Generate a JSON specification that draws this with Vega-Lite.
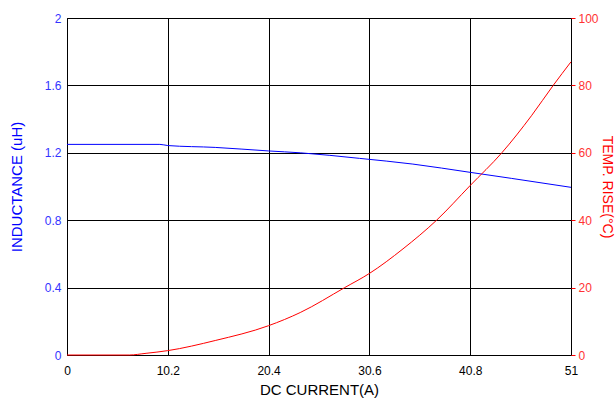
{
  "$schema": "https://vega.github.io/schema/vega-lite/v6.json",
  "width": 504,
  "height": 337,
  "autosize": "none",
  "padding": {"left": 67, "top": 18, "right": 45, "bottom": 53},
  "background": "white",
  "config": {
    "font": "Liberation Sans",
    "view": {"stroke": "black", "strokeWidth": 1},
    "axis": {"gridColor": "black", "gridOpacity": 1, "gridWidth": 1, "labelFontSize": 12, "titleFontSize": 15, "titleFontWeight": "normal", "labelFont": "Liberation Sans", "titleFont": "Liberation Sans"}
  },
  "datasets": {
    "ind": [
      {"current": 0, "inductance": 1.25},
      {"current": 9.4, "inductance": 1.25},
      {"current": 10.2, "inductance": 1.243},
      {"current": 15, "inductance": 1.232},
      {"current": 20.4, "inductance": 1.211},
      {"current": 23.6, "inductance": 1.2},
      {"current": 29.6, "inductance": 1.167},
      {"current": 35, "inductance": 1.133},
      {"current": 40.8, "inductance": 1.084},
      {"current": 45, "inductance": 1.048},
      {"current": 51, "inductance": 0.995}
    ],
    "temp": [
      {"current": 0, "temp": 0},
      {"current": 6.3, "temp": 0},
      {"current": 8, "temp": 0.5},
      {"current": 10.2, "temp": 1.3},
      {"current": 15, "temp": 4.3},
      {"current": 20.4, "temp": 8.7},
      {"current": 23.6, "temp": 12.6},
      {"current": 28.1, "temp": 20},
      {"current": 30.6, "temp": 24.2},
      {"current": 34, "temp": 31.5},
      {"current": 37.4, "temp": 40},
      {"current": 40.8, "temp": 50.3},
      {"current": 44, "temp": 60},
      {"current": 47, "temp": 71},
      {"current": 49.2, "temp": 80},
      {"current": 51, "temp": 87}
    ]
  },
  "layer": [
    {
      "data": {"name": "ind"},
      "mark": {"type": "line", "color": "#0000ff", "strokeWidth": 1, "interpolate": "monotone"},
      "encoding": {
        "x": {"field": "current", "type": "quantitative", "scale": {"domain": [0, 51], "nice": false, "zero": false},
          "axis": {"values": [0, 10.2, 20.4, 30.6, 40.8, 51], "format": ".1~f", "title": "DC CURRENT(A)", "labelColor": "black", "titleColor": "black", "domain": false, "ticks": false, "labelPadding": 10, "titlePadding": 6, "grid": true, "labelFlush": false}},
        "y": {"field": "inductance", "type": "quantitative", "scale": {"domain": [0, 2], "nice": false},
          "axis": {"values": [0, 0.4, 0.8, 1.2, 1.6, 2], "format": ".1~f", "title": "INDUCTANCE (uH)", "labelColor": "#3333ff", "titleColor": "#0000ff", "domain": false, "ticks": false, "labelPadding": 6, "titlePadding": 20, "grid": true, "labelFlush": false}}
      }
    },
    {
      "data": {"name": "temp"},
      "mark": {"type": "line", "color": "#ff0000", "strokeWidth": 1, "interpolate": "monotone"},
      "encoding": {
        "x": {"field": "current", "type": "quantitative"},
        "y": {"field": "temp", "type": "quantitative", "scale": {"domain": [0, 100], "nice": false},
          "axis": {"orient": "right", "values": [0, 20, 40, 60, 80, 100], "title": "TEMP. RISE(°C)", "titleFontSize": 14, "labelColor": "#ff3333", "titleColor": "#ff0000", "domain": false, "ticks": true, "tickColor": "#ff0000", "tickSize": 4, "labelPadding": 3, "titlePadding": 1, "grid": false, "labelFlush": false}}
      }
    }
  ],
  "resolve": {"scale": {"y": "independent"}}
}
